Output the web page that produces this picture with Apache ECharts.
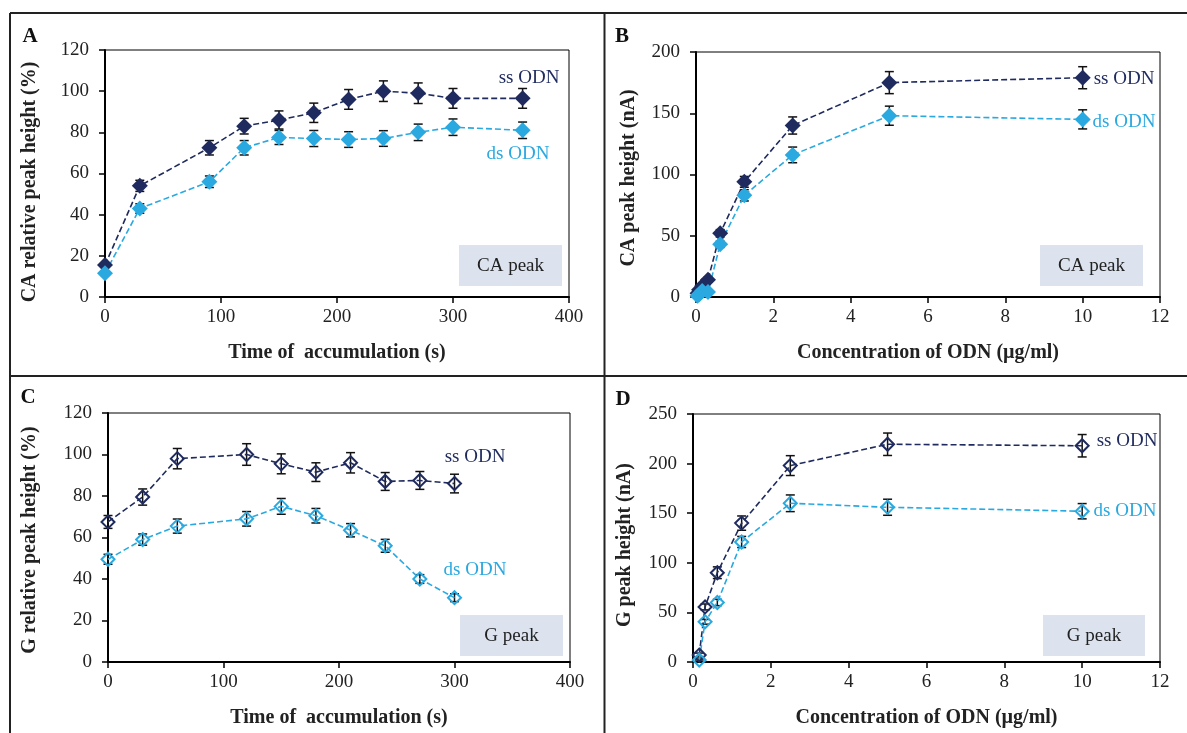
<!DOCTYPE html>
<html>
<head>
<meta charset="utf-8">
<script src="https://cdn.jsdelivr.net/npm/echarts@6/dist/echarts.min.js"></script>
<style>
  html, body { margin: 0; padding: 0; background: #fff; }
  #chart { width: 1187px; height: 733px; }
</style>
</head>
<body>
<div id="chart"></div>
<script>
// panel A - CA peak vs time of accumulation
const timeA = [0, 30, 90, 120, 150, 180, 210, 240, 270, 300, 360];
const ssA = [15.5, 54, 72.5, 83, 86, 89.5, 96, 100, 99, 96.5, 96.5];
const ssAErr = [1, 2.7, 3.5, 3.8, 4.4, 4.7, 4.8, 5, 5, 4.8, 4.8];
const dsA = [11.5, 43, 56, 72.5, 77.5, 77, 76.5, 77, 80, 82.5, 81];
const dsAErr = [1, 2.3, 2.8, 3.5, 3.4, 3.9, 3.8, 3.8, 4, 4, 4];

// panel B - CA peak vs concentration
const concB = [0.04, 0.08, 0.16, 0.31, 0.625, 1.25, 2.5, 5, 10];
const ssB = [3, 6, 9, 14, 52, 94, 140, 175, 179];
const ssBErr = [1, 1, 1.5, 2, 3, 4.4, 7, 9, 9];
const dsB = [1, 2, 5, 4, 43, 83, 116, 148, 145];
const dsBErr = [0.5, 1, 1, 1.5, 2.5, 4.6, 6.4, 7.8, 7.8];

// panel C - G peak vs time of accumulation
const timeC = [0, 30, 60, 120, 150, 180, 210, 240, 270, 300];
const ssC = [67.5, 79.5, 98, 100, 95.5, 91.5, 96, 87, 87.5, 86];
const ssCErr = [3.1, 3.9, 4.9, 5.2, 4.8, 4.5, 4.9, 4.3, 4.3, 4.5];
const dsC = [49.5, 59, 65.5, 69, 75, 70.5, 63.5, 56, 40, 31];
const dsCErr = [2.4, 2.7, 3.4, 3.5, 3.8, 3.5, 3.2, 3.1, 2.1, 1.9];

// panel D - G peak vs concentration
const concD = [0.16, 0.31, 0.625, 1.25, 2.5, 5, 10];
const ssD = [7, 55.5, 90, 140, 198, 219.5, 218];
const ssDErr = [2, 3, 5.9, 7.2, 10, 11.3, 11.3];
const dsD = [2, 40.5, 60, 121, 160, 156, 152];
const dsDErr = [1, 2.4, 3.2, 5.6, 8.4, 8.1, 7.7];

const NAVY = '#1f2b5e';
const LIGHT = '#2aa9e0';
const FONT = '"Liberation Serif", "Times New Roman", serif';

const chart = echarts.init(document.getElementById('chart'));

function pts(xs, ys) {
  return xs.map((x, i) => [x, ys[i]]);
}
function errs(xs, ys, es) {
  return xs.map((x, i) => [x, ys[i] - es[i], ys[i] + es[i]]);
}

function renderErr(params, api) {
  const x = api.value(0);
  const top = api.coord([x, api.value(2)]);
  const bot = api.coord([x, api.value(1)]);
  const w = 4.5;
  const st = { stroke: '#111', lineWidth: 1.5 };
  return {
    type: 'group',
    children: [
      { type: 'line', shape: { x1: top[0], y1: top[1], x2: bot[0], y2: bot[1] }, style: st },
      { type: 'line', shape: { x1: top[0] - w, y1: top[1], x2: top[0] + w, y2: top[1] }, style: st },
      { type: 'line', shape: { x1: bot[0] - w, y1: bot[1], x2: bot[0] + w, y2: bot[1] }, style: st }
    ]
  };
}

function lineSeries(idx, xs, ys, color, hollow) {
  return {
    type: 'line',
    xAxisIndex: idx, yAxisIndex: idx,
    data: pts(xs, ys),
    symbol: 'diamond',
    symbolSize: hollow ? 13 : 16,
    z: 3,
    lineStyle: { color: color, width: 1.6, type: [6, 3] },
    itemStyle: hollow
      ? { color: 'rgba(0,0,0,0)', borderColor: color, borderWidth: 2 }
      : { color: color },
    emphasis: { disabled: true }
  };
}

function errSeries(idx, xs, ys, es) {
  return {
    type: 'custom',
    xAxisIndex: idx, yAxisIndex: idx,
    data: errs(xs, ys, es),
    encode: { x: 0, y: [1, 2] },
    renderItem: renderErr,
    z: 2
  };
}

const grids = [
  { left: 105, right: 618, top: 50, bottom: 436 },
  { left: 696, right: 27, top: 52, bottom: 436 },
  { left: 108, right: 617, top: 413, bottom: 71 },
  { left: 693, right: 27, top: 414, bottom: 71 }
];

const xDefs = [
  { max: 400, interval: 100, name: 'Time of  accumulation (s)' },
  { max: 12, interval: 2, name: 'Concentration of ODN (µg/ml)' },
  { max: 400, interval: 100, name: 'Time of  accumulation (s)' },
  { max: 12, interval: 2, name: 'Concentration of ODN (µg/ml)' }
];
const yDefs = [
  { max: 120, interval: 20 },
  { max: 200, interval: 50 },
  { max: 120, interval: 20 },
  { max: 250, interval: 50 }
];

const labelStyle = { color: '#222', fontFamily: FONT, fontSize: 19 };

function axisCommon() {
  return {
    type: 'value',
    min: 0,
    axisLine: { show: true, onZero: false, lineStyle: { color: '#000', width: 2 } },
    axisTick: { show: true, inside: false, length: 6, lineStyle: { color: '#000', width: 1.5 } },
    splitLine: { show: false }
  };
}

function text(x, y, str, color, size, bold, rot) {
  return {
    type: 'text', x: x, y: y, rotation: rot || 0,
    style: {
      text: str, fill: color, align: 'center', verticalAlign: 'middle',
      font: (bold ? 'bold ' : '') + size + 'px ' + FONT
    }
  };
}

function box(x, y, w, h, str) {
  return {
    type: 'group', x: x, y: y,
    children: [
      { type: 'rect', shape: { x: 0, y: 0, width: w, height: h }, style: { fill: '#dce3ef' } },
      text(w / 2, h / 2 + 1, str, '#222', 19, false)
    ]
  };
}

function frameLine(x1, y1, x2, y2) {
  return { type: 'line', shape: { x1: x1, y1: y1, x2: x2, y2: y2 }, style: { stroke: '#222', lineWidth: 2 } };
}

const option = {
  animation: false,
  backgroundColor: '#fff',
  grid: grids.map(g => Object.assign({ show: true, borderColor: '#000', borderWidth: 1, backgroundColor: 'transparent' }, g)),
  xAxis: xDefs.map((d, i) => Object.assign(axisCommon(), {
    gridIndex: i, max: d.max, interval: d.interval,
    name: d.name, nameLocation: 'middle', nameGap: 46,
    nameTextStyle: { color: '#222', fontFamily: FONT, fontSize: 20, fontWeight: 'bold' },
    axisLabel: Object.assign({ margin: 11 }, labelStyle)
  })),
  yAxis: yDefs.map((d, i) => Object.assign(axisCommon(), {
    gridIndex: i, max: d.max, interval: d.interval,
    axisLabel: Object.assign({ margin: 16 }, labelStyle)
  })),
  series: [
    errSeries(0, timeA, ssA, ssAErr), errSeries(0, timeA, dsA, dsAErr),
    lineSeries(0, timeA, ssA, NAVY, false), lineSeries(0, timeA, dsA, LIGHT, false),
    errSeries(1, concB, ssB, ssBErr), errSeries(1, concB, dsB, dsBErr),
    lineSeries(1, concB, ssB, NAVY, false), lineSeries(1, concB, dsB, LIGHT, false),
    errSeries(2, timeC, ssC, ssCErr), errSeries(2, timeC, dsC, dsCErr),
    lineSeries(2, timeC, ssC, NAVY, true), lineSeries(2, timeC, dsC, LIGHT, true),
    errSeries(3, concD, ssD, ssDErr), errSeries(3, concD, dsD, dsDErr),
    lineSeries(3, concD, ssD, NAVY, true), lineSeries(3, concD, dsD, LIGHT, true)
  ],
  graphic: [
    frameLine(10, 13, 1187, 13),
    frameLine(10, 13, 10, 733),
    frameLine(604.5, 13, 604.5, 733),
    frameLine(10, 376, 1187, 376),
    text(30, 37, 'A', '#111', 21, true),
    text(622, 37, 'B', '#111', 21, true),
    text(28, 398, 'C', '#111', 21, true),
    text(623, 400, 'D', '#111', 21, true),
    text(30, 182, 'CA relative peak height (%)', '#222', 20, true, Math.PI / 2),
    text(629, 178, 'CA peak height (nA)', '#222', 20, true, Math.PI / 2),
    text(30, 540, 'G relative peak height (%)', '#222', 20, true, Math.PI / 2),
    text(625, 545, 'G peak height (nA)', '#222', 20, true, Math.PI / 2),
    text(529, 78, 'ss ODN', NAVY, 19, false),
    text(518, 154, 'ds ODN', LIGHT, 19, false),
    text(1124, 79, 'ss ODN', NAVY, 19, false),
    text(1124, 122, 'ds ODN', LIGHT, 19, false),
    text(475, 457, 'ss ODN', NAVY, 19, false),
    text(475, 570, 'ds ODN', LIGHT, 19, false),
    text(1127, 441, 'ss ODN', NAVY, 19, false),
    text(1125, 511, 'ds ODN', LIGHT, 19, false),
    box(459, 245, 103, 41, 'CA peak'),
    box(1040, 245, 103, 41, 'CA peak'),
    box(460, 615, 103, 41, 'G peak'),
    box(1043, 615, 102, 41, 'G peak')
  ]
};

chart.setOption(option);
</script>
</body>
</html>
